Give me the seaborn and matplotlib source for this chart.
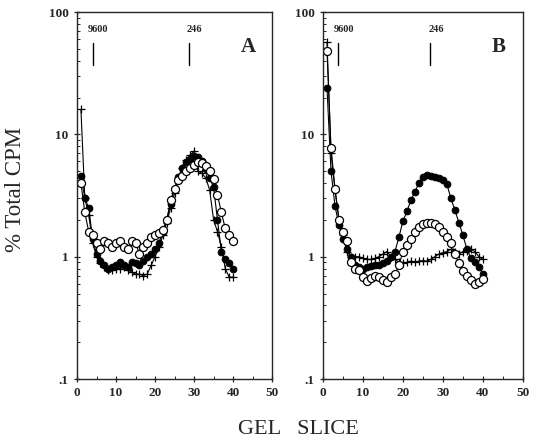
import numpy as np
import pandas as pd
import matplotlib
matplotlib.use('Agg')
import matplotlib.pyplot as plt
import matplotlib.ticker as mticker
import seaborn as sns

# ========== data ==========
slices = list(range(1, 41))

# panel A
a_filled = [4.6, 3.0, 2.5, 1.4, 1.05, 0.92, 0.85, 0.80, 0.82, 0.86,
            0.90, 0.85, 0.82, 0.90, 0.88, 0.85, 0.92, 1.0, 1.05, 1.15,
            1.3, 1.6, 2.0, 2.7, 3.6, 4.5, 5.3, 5.9, 6.3, 6.6,
            6.5, 6.0, 5.2, 4.4, 3.7, 2.0, 1.1, 0.95, 0.88, 0.80]
a_open = [4.0, 2.3, 1.6, 1.5, 1.3, 1.15, 1.35, 1.3, 1.2, 1.3,
          1.35, 1.2, 1.15, 1.35, 1.3, 1.05, 1.2, 1.3, 1.45, 1.5,
          1.55, 1.65, 2.0, 2.9, 3.6, 4.2, 4.6, 5.0, 5.3, 5.6,
          5.9, 5.8, 5.5, 5.0, 4.3, 3.2, 2.3, 1.7, 1.5, 1.35]
a_cross = [16, 3.0, 2.2, 1.3, 1.0, 0.88, 0.82, 0.78, 0.78, 0.80,
           0.80, 0.82, 0.78, 0.75, 0.72, 0.72, 0.70, 0.72, 0.85, 1.0,
           1.2, 1.5, 1.9, 2.5, 3.3, 4.3, 5.3, 6.2, 6.8, 7.3,
           5.0, 4.8, 4.4, 3.5, 2.0, 1.6, 1.2, 0.8, 0.68, 0.68]

# panel B
b_filled = [24, 5.0, 2.6, 1.8, 1.4, 1.15, 1.0, 0.85, 0.82, 0.80,
            0.82, 0.84, 0.85, 0.86, 0.88, 0.92, 1.0, 1.1, 1.45, 1.95,
            2.35, 2.9, 3.4, 4.0, 4.5, 4.65, 4.6, 4.5, 4.4, 4.25,
            3.9, 3.0, 2.4, 1.9, 1.5, 1.15, 0.98, 0.90, 0.82, 0.72]
b_open = [48, 7.8, 3.6, 2.0, 1.6, 1.35, 0.9, 0.8, 0.78, 0.68,
          0.63, 0.67, 0.70, 0.68, 0.65, 0.62, 0.68, 0.72, 0.85, 1.1,
          1.25, 1.4, 1.6, 1.75, 1.85, 1.9, 1.9, 1.85, 1.75, 1.6,
          1.45, 1.3, 1.05, 0.88, 0.77, 0.70, 0.65, 0.60, 0.62, 0.66]
b_cross = [57, 7.0, 3.5, 2.0, 1.5, 1.1, 1.0, 1.0, 1.0, 0.97,
           0.95, 0.95, 0.97, 1.0, 1.05, 1.1, 1.0, 0.95, 0.90, 0.88,
           0.90, 0.92, 0.90, 0.92, 0.93, 0.92, 0.95, 1.0, 1.05, 1.08,
           1.1, 1.15, 1.1, 1.05, 1.1, 1.12, 1.15, 1.1, 1.0, 0.95]

# size markers (slice position, label)
marker_pos_a = [4, 28.7]
marker_pos_b = [3.8, 26.8]
marker_labels = ['9600', '246']
panel_letters = ['A', 'B']

# ========== style ==========
sns.set_style('ticks')
plt.rcParams['font.family'] = ['Liberation Serif', 'DejaVu Serif']

fig = plt.figure(figsize=(5.33, 4.45), dpi=100)
ax_a = fig.add_axes([0.1445, 0.1483, 0.366, 0.8247])
ax_b = fig.add_axes([0.606, 0.1483, 0.375, 0.8247])


def draw_panel(ax, filled, opened, cross, mpos, letter):
    df = pd.DataFrame({'slice': slices, 'filled': filled,
                       'open': opened, 'cross': cross})
    sns.lineplot(data=df, x='slice', y='cross', ax=ax, color='black',
                 lw=0.8, marker='+', markersize=6, markeredgewidth=0.9,
                 markeredgecolor='black')
    sns.lineplot(data=df, x='slice', y='filled', ax=ax, color='black',
                 lw=0.8, marker='o', markersize=4.8, markerfacecolor='black',
                 markeredgecolor='black')
    sns.lineplot(data=df, x='slice', y='open', ax=ax, color='black',
                 lw=0.8, marker='o', markersize=5.8, markerfacecolor='white',
                 markeredgecolor='black', markeredgewidth=0.9)
    ax.set_yscale('log')
    ax.set_ylim(0.1, 100)
    ax.set_xlim(0, 50)
    ax.set_xlabel('')
    ax.set_ylabel('')
    ax.set_xticks([0, 10, 20, 30, 40, 50])
    ax.xaxis.set_minor_locator(mticker.MultipleLocator(5))
    ax.set_yticks([0.1, 1, 10, 100])
    ax.set_yticklabels(['.1', '1', '10', '100'])
    ax.yaxis.set_minor_locator(mticker.LogLocator(base=10, subs=np.arange(2, 10)))
    ax.yaxis.set_minor_formatter(mticker.NullFormatter())
    ax.tick_params(axis='both', which='major', direction='inout', length=5,
                   width=0.9, labelsize=9.5)
    ax.tick_params(axis='both', which='minor', direction='in', length=2.5, width=0.7)
    for lab in ax.get_xticklabels() + ax.get_yticklabels():
        lab.set_fontweight('bold')
    for sp in ax.spines.values():
        sp.set_visible(True)
        sp.set_linewidth(1.0)
    # molecular weight markers
    for xp, txt in zip(mpos, marker_labels):
        ax.plot([xp, xp], [37, 56], color='black', lw=1.0)
        ax.text(xp + 1.5, 72, txt, ha='center', va='center', fontsize=7.5,
                fontweight='bold')
    ax.text(44, 52, letter, ha='center', va='center', fontsize=15, fontweight='bold')


draw_panel(ax_a, a_filled, a_open, a_cross, marker_pos_a, panel_letters[0])
draw_panel(ax_b, b_filled, b_open, b_cross, marker_pos_b, panel_letters[1])

fig.text(0.03, 0.575, '% Total CPM', rotation=90, ha='center', va='center', fontsize=16.5)
fig.text(0.56, 0.035, 'GEL   SLICE', ha='center', va='center', fontsize=16)

fig.savefig('out.png', dpi=100)
